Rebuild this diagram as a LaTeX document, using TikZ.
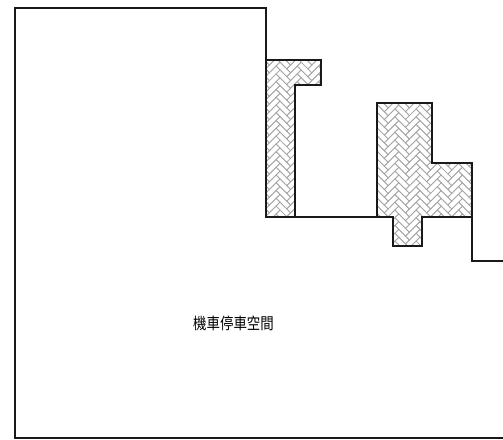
\documentclass[tikz,border=0pt]{standalone}
\usepackage{fontspec}
\newfontfamily\cjk{Noto Sans CJK TC}
\tikzset{
  wall/.style={line width=2.5pt,black!90,line cap=rect,line join=miter},
  brick/.style={line width=0.7pt,black!35},
  label/.style={font=\cjk\fontsize{16}{17}\selectfont,text=black,inner sep=0pt,xscale=0.84,transform shape}
}
\newcommand{\herring}[2]{% origin x y
  \begin{scope}[shift={(#1,#2)},rotate=-45]
    \foreach \i in {-6,...,6}{
      \foreach \k in {-20,...,20}{
        \pgfmathsetmacro{\ox}{\k*5.5+\i*15}
        \pgfmathsetmacro{\oy}{\k*5.5-\i*15}
        \draw[brick] (\ox,\oy) rectangle ++(15,5.5);
        \draw[brick] (\ox+15,\oy+5.5-15) rectangle ++(5.5,15);
      }
    }
  \end{scope}
}
\begin{document}
\begin{tikzpicture}[x=1pt,y=-1pt]
  \useasboundingbox (0,0) rectangle (503,439);
  \fill[white] (0,0) rectangle (503,439);
  \begin{scope}
    \clip (266,60) -- (321,60) -- (321,85) -- (295,85) -- (295,217) -- (266,217) -- cycle;
    \herring{280}{140}
  \end{scope}
  \begin{scope}
    \clip (377,103) -- (432,103) -- (432,163) -- (472,163) -- (472,217) -- (422,217) -- (422,246) -- (393,246) -- (393,217) -- (377,217) -- cycle;
    \herring{420}{175}
  \end{scope}
  \draw[wall] (503,261) -- (472,261) -- (472,163) -- (432,163) -- (432,103) -- (377,103) -- (377,217) -- (266,217) -- (266,8) -- (15,8) -- (15,438) -- (503,438);
  \draw[wall] (266,60) -- (321,60) -- (321,85) -- (295,85) -- (295,217);
  \draw[wall] (377,217) -- (393,217) -- (393,246) -- (422,246) -- (422,217) -- (472,217);
  \node[label] (title) at (233.5,323) {機車停車空間};
\end{tikzpicture}
\end{document}
